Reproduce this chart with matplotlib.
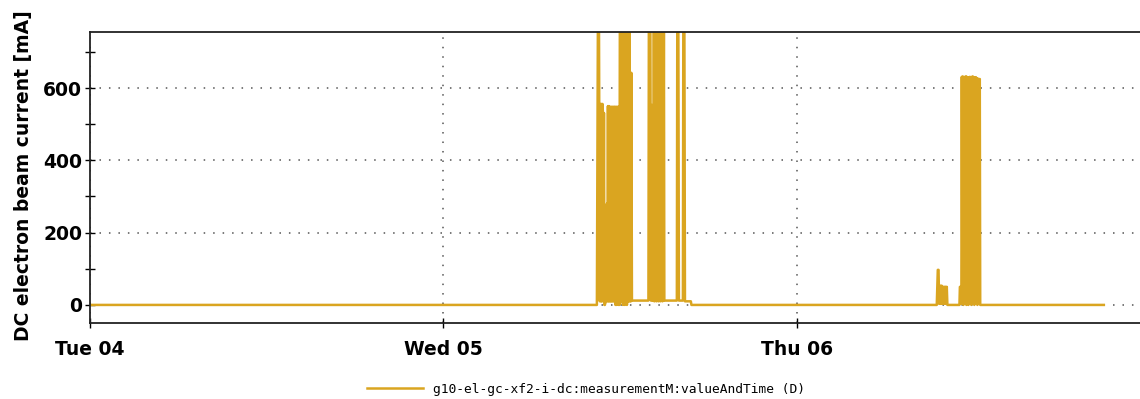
import numpy as np
import matplotlib.pyplot as plt

# keep every sample of the dense fills
plt.rcParams['path.simplify'] = False

# beam current record, hours since Tue 04 00:00 and mA
hours = [
    0.00, 34.42,
    # first fill, Wed afternoon
    34.49, 34.56, 34.62, 34.66, 34.70, 34.73, 34.76, 34.80, 34.83, 34.86,
    34.90, 34.93, 34.96, 35.03, 35.10, 35.14,
    35.17, 35.20, 35.24, 35.27, 35.30, 35.34, 35.37, 35.40, 35.44, 35.47,
    35.51, 35.54, 35.58, 35.61, 35.64, 35.68, 35.71, 35.75, 35.78, 35.81,
    35.85, 35.88, 35.92, 35.95,
    35.98, 36.05, 36.09, 36.12, 36.16, 36.19,
    36.22, 36.25, 36.29, 36.32, 36.35, 36.39, 36.42, 36.46, 36.49, 36.53,
    36.56, 36.59, 36.63, 36.66, 36.70, 36.73, 36.76, 36.80,
    37.92,
    # second fill
    37.95, 38.05, 38.09, 38.12, 38.19, 38.22, 38.26,
    38.29, 38.32, 38.36, 38.39, 38.43, 38.46, 38.49, 38.53, 38.56, 38.60,
    38.63, 38.66, 38.70, 38.73, 38.77, 38.80, 38.83, 38.87, 38.90, 38.93,
    38.97, 39.00,
    39.85, 39.88, 39.95, 39.99,
    40.26, 40.29, 40.36, 40.40,
    40.80, 40.84,
    # Thu afternoon
    57.50, 57.57, 57.62, 57.66, 57.70, 57.73, 57.77, 57.80, 57.84, 57.87,
    57.91, 57.94, 57.98, 58.01, 58.05, 58.08, 58.11, 58.15, 58.18, 58.22,
    59.04, 59.07, 59.14, 59.17,
    59.20, 59.24, 59.27, 59.31, 59.34, 59.37, 59.41, 59.44, 59.48, 59.51,
    59.54, 59.58, 59.61, 59.65, 59.68, 59.71, 59.75, 59.78, 59.82, 59.85,
    59.88, 59.92, 59.95, 59.99, 60.02, 60.05, 60.09, 60.12, 60.16, 60.19,
    60.22, 60.26, 60.29, 60.33, 60.36, 60.39, 60.42, 60.45,
    68.84,
]
current = [
    0, 0,
    800, 800, 10, 556, 10, 556, 10, 556, 531, 10,
    531, 0, 0, 10, 280, 10,
    550, 10, 550, 10, 548, 10, 548, 10, 548, 10,
    548, 10, 548, 10, 548, 0, 548, 0, 548, 10,
    548, 0, 548, 0,
    800, 800, 470, 10, 470, 0,
    800, 10, 800, 0, 800, 10, 800, 0, 800, 10,
    800, 10, 800, 10, 642, 10, 642, 12,
    12,
    800, 800, 12, 553, 12, 553, 12,
    800, 10, 800, 12, 800, 10, 800, 12, 800, 10,
    800, 12, 800, 10, 800, 12, 800, 10, 800, 12,
    800, 12,
    12, 800, 800, 12,
    12, 800, 800, 10,
    10, 0,
    0, 97, 97, 3, 53, 3, 53, 3, 53, 3,
    50, 3, 50, 3, 50, 3, 50, 3, 50, 0,
    0, 50, 50, 3,
    631, 3, 632, 0, 630, 3, 631, 3, 632, 0,
    631, 3, 630, 0, 628, 3, 631, 3, 630, 0,
    631, 3, 632, 3, 630, 0, 628, 3, 630, 3,
    627, 0, 626, 3, 625, 3, 625, 0,
    0,
]

day_pos = [0, 24, 48]
day_labels = ['Tue 04', 'Wed 05', 'Thu 06']
y_major = [0, 200, 400, 600]
y_minor = [100, 300, 500, 700]

fig = plt.figure(figsize=(11.4, 3.99), dpi=100)
ax = fig.add_axes([90 / 1140, 1 - 323 / 399, 1 - 90 / 1140, (323 - 32) / 399])

ax.plot(hours, current, color='#DAA520', linewidth=1.8,
        label='g10-el-gc-xf2-i-dc:measurementM:valueAndTime (D)')

ax.set_xlim(0, 71.3)
ax.set_ylim(-50, 755)
ax.set_xticks(day_pos)
ax.set_xticklabels(day_labels, fontsize=13.5, fontweight='bold')
ax.set_yticks(y_major)
ax.set_yticks(y_minor, minor=True)
ax.set_yticklabels([str(v) for v in y_major], fontsize=13.5, fontweight='bold')
ax.tick_params(axis='y', which='both', direction='inout', length=7, width=1, pad=2)
ax.tick_params(axis='x', which='both', direction='inout', length=7, width=1, pad=9)

ax.grid(True, which='major', color='#555555', linewidth=1.1, linestyle=(0, (1, 5.2)))
ax.set_axisbelow(True)

for side in ['top', 'bottom', 'left']:
    ax.spines[side].set_color('#222222')
    ax.spines[side].set_linewidth(1.3)
ax.spines['right'].set_visible(False)

fig.text(24 / 1140, 1 - 176 / 399, 'DC electron beam current [mA]', rotation=90,
         ha='center', va='center', fontsize=13.5, fontweight='bold')

fig.legend(loc='center left', bbox_to_anchor=(367 / 1140, 1 - 389 / 399),
           frameon=False, borderpad=0, borderaxespad=0, handlelength=4.3,
           handletextpad=0.8, prop={'family': 'DejaVu Sans Mono', 'size': 9.3})

fig.savefig('out.png', dpi=100)
